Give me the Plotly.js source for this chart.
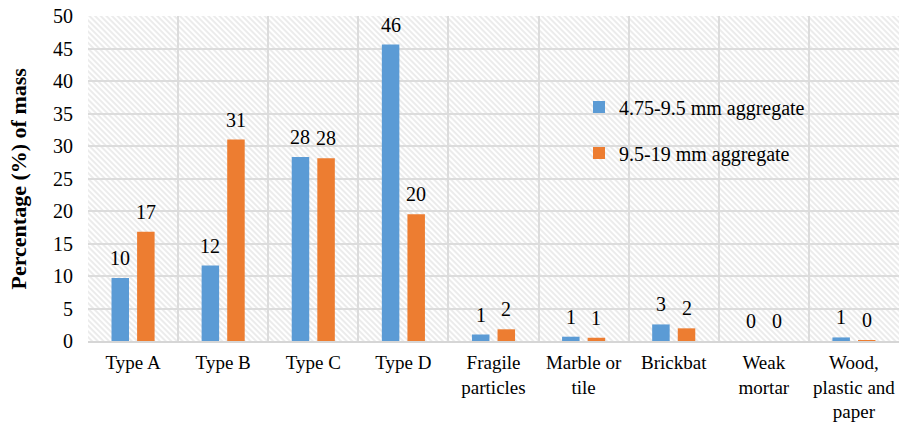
<!DOCTYPE html>
<html>
<head>
<meta charset="utf-8">
<script src="https://cdn.plot.ly/plotly-3.0.1.min.js"></script>
<style>
  html, body { margin: 0; padding: 0; background: #fff; }
  #chart { width: 900px; height: 424px; }
</style>
</head>
<body>
<div id="chart"></div>
<script>
// Categories of constituents found in the recycled aggregate
var categories = [
  'Type A', 'Type B', 'Type C', 'Type D',
  'Fragile<br>particles', 'Marble or<br>tile', 'Brickbat',
  'Weak<br>mortar', 'Wood,<br>plastic and<br>paper'
];

// Percentage (%) of mass for each size fraction
var fineAggregate   = [9.7, 11.6, 28.3, 45.6, 1.0, 0.66, 2.55, 0, 0.55];
var coarseAggregate = [16.8, 31.0, 28.1, 19.5, 1.8, 0.5, 1.95, 0, 0.15];

var seriesNames = ['4.75-9.5 mm aggregate', '9.5-19 mm aggregate'];
var seriesColors = ['#5b9bd5', '#ed7d31'];

var FONT = 'Liberation Serif';

// Plot-area geometry (pixels)
var M = { l: 88, r: 1, t: 16, b: 83 };
var W = 900, H = 424;
var plotW = W - M.l - M.r, plotH = H - M.t - M.b;

// Bar grouping
var BARGAP = 0.432, BARGROUPGAP = 0.316;
var slot = (1 - BARGAP) / 2;          // width of one series slot, in category units

var traces = [fineAggregate, coarseAggregate].map(function (vals, i) {
  return {
    type: 'bar',
    name: seriesNames[i],
    legendgroup: 'g' + i,
    x: categories,
    y: vals,
    marker: { color: seriesColors[i], line: { width: 0 } },
    hoverinfo: 'x+y'
  };
});

// Rounded value labels above each bar
var annotations = [];
[fineAggregate, coarseAggregate].forEach(function (vals, i) {
  var off = (i === 0 ? -1 : 1) * slot / 2;
  vals.forEach(function (v, k) {
    annotations.push({
      x: k + off, y: v, xref: 'x', yref: 'y',
      text: String(Math.round(v)),
      showarrow: false, yshift: 20, yanchor: 'middle', xanchor: 'center',
      font: { family: FONT, size: 20, color: '#000' }
    });
  });
});

// Y axis title
annotations.push({
  xref: 'paper', yref: 'paper', x: (18 - M.l) / plotW, y: 0.5,
  text: '<b>Percentage (%) of mass</b>', textangle: -90,
  showarrow: false, xanchor: 'center', yanchor: 'middle',
  font: { family: FONT, size: 22, color: '#000' }
});

// Diagonal hatch fill behind the plot area
var hatchSvg =
  '<svg xmlns="http://www.w3.org/2000/svg" width="' + plotW + '" height="' + plotH + '">' +
  '<defs><pattern id="h" width="4" height="4" patternUnits="userSpaceOnUse" patternTransform="rotate(-45)">' +
  '<line x1="1" y1="0" x2="1" y2="4" stroke="#d8d8d8" stroke-width="1"/></pattern></defs>' +
  '<rect width="100%" height="100%" fill="#fff"/>' +
  '<rect width="100%" height="100%" fill="url(#h)"/></svg>';

var layout = {
  width: W, height: H,
  margin: M,
  paper_bgcolor: '#fff',
  plot_bgcolor: 'rgba(0,0,0,0)',
  barmode: 'group',
  bargap: BARGAP,
  bargroupgap: BARGROUPGAP,
  font: { family: FONT, size: 20, color: '#000' },
  showlegend: true,
  legend: {
    x: (579 - M.l) / plotW, y: 0.78, xanchor: 'left', yanchor: 'top',
    bgcolor: 'rgba(0,0,0,0)',
    font: { family: FONT, size: 20, color: '#000' },
    tracegroupgap: 17
  },
  xaxis: {
    type: 'category',
    tickson: 'boundaries',
    tickangle: 0,
    ticklabelstandoff: 3,
    showgrid: true, gridcolor: '#dcdcdc', gridwidth: 2,
    showline: true, linecolor: '#d6d6d6', linewidth: 2,
    ticks: '', tickfont: { family: FONT, size: 19, color: '#000' },
    fixedrange: true
  },
  yaxis: {
    range: [0, 50], dtick: 5, tick0: 0,
    showgrid: true, gridcolor: '#dcdcdc', gridwidth: 2,
    zeroline: false, showline: false,
    ticks: '', ticklabelstandoff: 14,
    tickfont: { family: FONT, size: 20, color: '#000' },
    fixedrange: true
  },
  annotations: annotations,
  images: [{
    source: 'data:image/svg+xml;charset=utf-8,' + encodeURIComponent(hatchSvg),
    xref: 'paper', yref: 'paper', x: 0, y: 1, sizex: 1, sizey: 1,
    xanchor: 'left', yanchor: 'top', sizing: 'stretch', layer: 'below'
  }]
};

Plotly.newPlot('chart', traces, layout, { displayModeBar: false, staticPlot: true });
</script>
</body>
</html>
